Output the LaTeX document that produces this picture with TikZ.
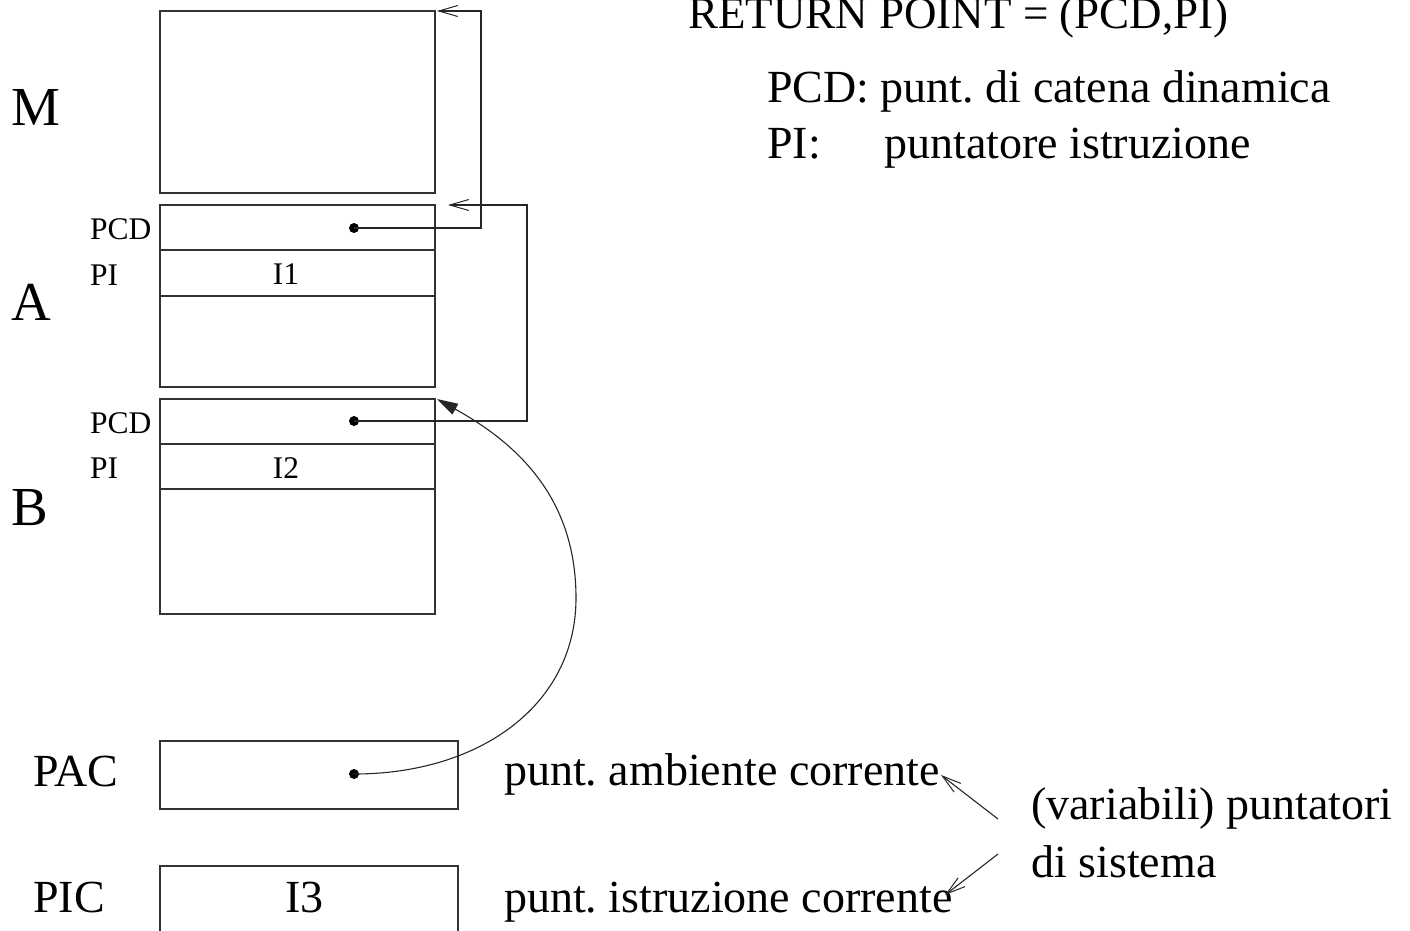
\documentclass[tikz,border=0pt]{standalone}
\usepackage{fontspec}
\setmainfont{Liberation Serif}
\usetikzlibrary{arrows.meta}
\begin{document}
\frenchspacing
\begin{tikzpicture}[x=1pt,y=-1pt,
  box/.style={draw=black!80, line width=1.4pt, rectangle, inner sep=0pt, outer sep=0pt, anchor=north west},
  rowline/.style={draw=black!80, line width=1.4pt},
  big/.style={font=\fontsize{55}{60}\selectfont, inner sep=0pt, anchor=base west},
  small/.style={font=\fontsize{31.5}{36}\selectfont, inner sep=0pt, anchor=base west},
  smallc/.style={font=\fontsize{31.5}{36}\selectfont, inner sep=0pt, anchor=base},
  txt/.style={font=\fontsize{46}{52}\selectfont\frenchspacing, inner sep=0pt, anchor=base west},
  link/.style={draw=black!85, line width=1.1pt},
  barb/.style={-{Straight Barb[length=19pt,width=11pt,line width=1pt]}},
  solidtip/.style={-{Triangle[length=21pt,width=12pt]}},
  dot/.style={circle, fill=black, inner sep=0pt, outer sep=0pt, minimum size=10pt}
]
\useasboundingbox (0,0) rectangle (1410,930);

% boxes
\node[box, minimum width=275pt, minimum height=182pt] (M) at (160,11) {};
\node[box, minimum width=275pt, minimum height=182pt] (A) at (160,205) {};
\node[box, minimum width=275pt, minimum height=215pt] (B) at (160,399) {};
\node[box, minimum width=298pt, minimum height=68pt] (PACbox) at (160,741) {};
\node[box, minimum width=298pt, minimum height=120pt] (PICbox) at (160,866) {};

% rows
\draw[rowline] ([yshift=-45pt]A.north west) -- ([yshift=-45pt]A.north east);
\draw[rowline] ([yshift=-91pt]A.north west) -- ([yshift=-91pt]A.north east);
\draw[rowline] ([yshift=-45pt]B.north west) -- ([yshift=-45pt]B.north east);
\draw[rowline] ([yshift=-90pt]B.north west) -- ([yshift=-90pt]B.north east);

% labels left
\node[big] (lM) at (11,125) {M};
\node[big] (lA) at (11,320) {A};
\node[big] (lB) at (11,525) {B};
\node[small] (pcdA) at (90,239) {PCD};
\node[small] (piA) at (90,285) {PI};
\node[small] (pcdB) at (90,433) {PCD};
\node[small] (piB) at (90,478) {PI};
\node[smallc] (i1) at (286,284) {I1};
\node[smallc] (i2) at (286,478) {I2};
\node[txt] (lPAC) at (33,786) {PAC};
\node[txt] (lPIC) at (33,912) {PIC};
\node[txt] (i3) at (285,912) {I3};

% right texts
\node[txt, font=\fontsize{45}{50}\selectfont] (ret) at (688,28) {RETURN POINT = (PCD,PI)};
\node[txt] (pcddef) at (767,102) {PCD: punt. di catena dinamica};
\node[txt] (pidef) at (767,158) {PI:};
\node[txt] (pidef2) at (884,158) {puntatore istruzione};
\node[txt] (amb) at (504,785) {punt. ambiente corrente};
\node[txt] (istr) at (504,912) {punt. istruzione corrente};
\node[txt] (var) at (1031,819) {(variabili) puntatori};
\node[txt] (dis) at (1031,877) {di sistema};

% dots
\node[dot] (dA) at (354,228) {};
\node[dot] (dB) at (354,421) {};
\node[dot] (dP) at (354,774) {};

% dynamic chain links
\draw[link,barb] (dA.center) -| ([xshift=46pt]M.north east) -- ([xshift=2pt]M.north east);
\draw[link,barb] (dB.center) -| ([xshift=92pt]A.north east) -- ([xshift=13pt]A.north east);

% current environment pointer
\coordinate (mid) at (576,598);
\draw[link,solidtip] (dP.center) .. controls (480,774) and (576,705) .. (mid)
  .. controls (576,500) and (520,445) .. ([xshift=2pt]B.north east);

% system pointer arrows
\coordinate (s1) at (998,819);
\coordinate (t1) at (941,775);
\coordinate (s2) at (998,854);
\coordinate (t2) at (945,895);
\draw[link,barb] (s1) -- (t1);
\draw[link,barb] (s2) -- (t2);
\end{tikzpicture}
\end{document}
